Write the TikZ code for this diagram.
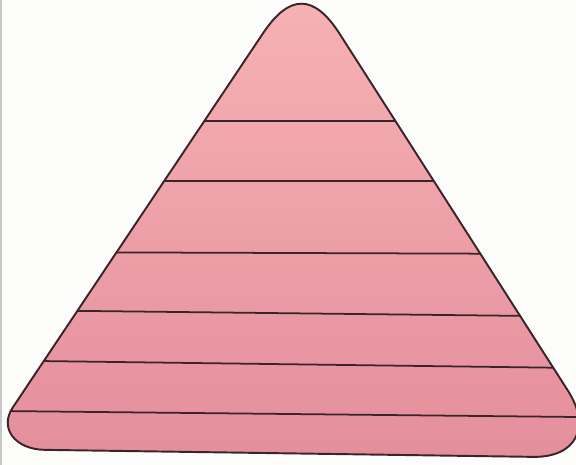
\documentclass[tikz,border=0pt]{standalone}
\usetikzlibrary{calc}
\definecolor{paper}{RGB}{252,252,251}
\definecolor{pinktop}{RGB}{246,178,180}
\definecolor{pinkmid}{RGB}{247,145,146}
\definecolor{pinkbot}{RGB}{228,142,156}
\definecolor{inkline}{RGB}{58,36,42}

\begin{document}
\begin{tikzpicture}[x=0.02cm,y=-0.02cm,
  rim/.style={draw=inkline,line width=1.1pt},
  rule/.style={draw=inkline,line width=1.0pt}]
\useasboundingbox[fill=paper] (0,0) rectangle (576,465);
\draw[gray!45,line width=1.2pt] (1,0) -- (1,465);
% corners of the sharp triangle
\coordinate (apex) at (302,-25);
\coordinate (bl) at (-15,449);
\coordinate (br) at (611,458);
% start and end of each rounding
\coordinate (t1) at ($(apex)!1.40cm!(bl)$);
\coordinate (t2) at ($(apex)!1.40cm!(br)$);
\coordinate (r1) at ($(br)!1.60cm!(apex)$);
\coordinate (r2) at ($(br)!1.56cm!(bl)$);
\coordinate (l1) at ($(bl)!1.20cm!(br)$);
\coordinate (l2) at ($(bl)!1.00cm!(apex)$);
\def\outline{(t1) .. controls ($(t1)!0.68!(apex)$) and ($(t2)!0.68!(apex)$) .. (t2)
  -- (r1) .. controls ($(r1)!0.55!(br)$) and ($(r2)!0.55!(br)$) .. (r2)
  -- (l1) .. controls ($(l1)!0.5!(bl)$) and ($(l2)!0.5!(bl)$) .. (l2) -- cycle}
% ---------- fill ----------
\shade[top color=pinktop,middle color=pinkmid,bottom color=pinkbot] \outline;
% ---------- rules ----------
\begin{scope}
  \clip \outline;
  \foreach \yl/\yr in {121/121,181/181,252/254,310/316.5,360.5/368,411/417}
    \draw[rule] (0,\yl) -- (576,\yr);
\end{scope}
\draw[rim] \outline;
\end{tikzpicture}
\end{document}
